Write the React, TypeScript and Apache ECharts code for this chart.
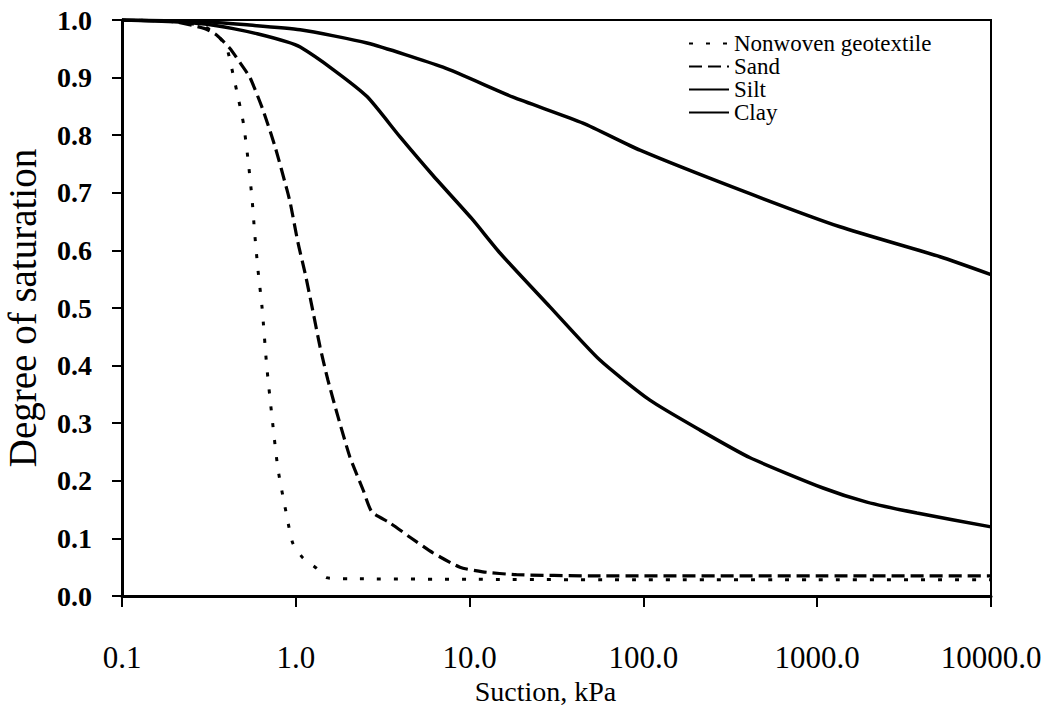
import React, { useEffect, useRef } from "react";
import * as echarts from "echarts";

const seriesNames = ["Nonwoven geotextile", "Sand", "Silt", "Clay"];

const nonwovenData: [number, number][] = [
  [0.1, 1.0], [0.2, 0.998], [0.3, 0.988], [0.35, 0.975], [0.4, 0.952], [0.436, 0.905],
  [0.47, 0.86], [0.5, 0.82], [0.53, 0.76], [0.56, 0.69], [0.58, 0.63], [0.606, 0.566],
  [0.64, 0.5], [0.68, 0.4], [0.73, 0.31], [0.79, 0.22], [0.89, 0.137], [0.96, 0.092],
  [1.1, 0.066], [1.32, 0.048], [1.5, 0.032], [2, 0.03], [10, 0.029], [100, 0.028],
  [1000, 0.028], [10000, 0.028],
];

const sandData: [number, number][] = [
  [0.1, 1.0], [0.2, 0.997], [0.3, 0.985], [0.35, 0.974], [0.417, 0.951], [0.48, 0.925],
  [0.545, 0.9], [0.647, 0.844], [0.76, 0.78], [0.89, 0.705], [0.93, 0.682], [1.03, 0.613],
  [1.13, 0.561], [1.24, 0.502], [1.38, 0.432], [1.53, 0.375], [1.75, 0.311], [2.05, 0.241],
  [2.44, 0.184], [2.74, 0.146], [3.48, 0.127], [4.54, 0.102], [6.15, 0.075], [8.8, 0.05],
  [11.9, 0.042], [18.6, 0.037], [50, 0.035], [1000, 0.035], [10000, 0.035],
];

const siltData: [number, number][] = [
  [0.1, 1.0], [0.2, 0.997], [0.3, 0.993], [0.436, 0.985], [0.6, 0.976], [0.89, 0.962],
  [1.06, 0.953], [1.64, 0.914], [2.57, 0.867], [3.98, 0.797], [6.16, 0.73],
  [10.3, 0.655], [15, 0.595], [29, 0.502], [56, 0.41], [109, 0.34], [212, 0.288],
  [411, 0.24], [1080, 0.1875], [1930, 0.163], [3750, 0.144], [10000, 0.12],
];

const clayData: [number, number][] = [
  [0.1, 1.0], [0.3, 0.997], [0.5, 0.992], [1.06, 0.983], [2.57, 0.96], [7.03, 0.918],
  [17.8, 0.866], [44.9, 0.821], [95.6, 0.774], [360, 0.705], [1352, 0.641], [5090, 0.589],
  [10000, 0.558],
];

const FONT = "Liberation Serif";

export default function App() {
  const ref = useRef<HTMLDivElement>(null);
  useEffect(() => {
    if (!ref.current) return;
    const chart = echarts.init(ref.current, undefined, { renderer: "svg" });
    const lineBase = { type: "line", showSymbol: false, symbol: "none", smooth: 0.2 };
    chart.setOption({
      animation: false,
      backgroundColor: "#ffffff",
      textStyle: { fontFamily: FONT },
      grid: {
        left: 122, right: 61, top: 20, bottom: 121,
        containLabel: false,
        outerBoundsMode: "none",
        show: true, borderColor: "#000", borderWidth: 2, backgroundColor: "transparent",
      },
      legend: {
        orient: "vertical",
        left: 688,
        top: 32,
        padding: 0,
        itemWidth: 40,
        itemHeight: 14,
        itemGap: 0,
        data: seriesNames,
        itemStyle: { opacity: 0 },
        textStyle: { fontFamily: FONT, fontSize: 23, color: "#000" },
      },
      xAxis: {
        type: "log",
        logBase: 10,
        min: 0.1,
        max: 10000,
        name: "Suction, kPa",
        nameLocation: "middle",
        nameGap: 74,
        nameTextStyle: { fontFamily: FONT, fontSize: 28, color: "#000", padding: [0, 22, 0, 0] },
        axisLine: { lineStyle: { color: "#000", width: 3 } },
        axisTick: { inside: false, length: 11, lineStyle: { color: "#000", width: 2 } },
        splitLine: { show: false },
        minorTick: { show: false },
        axisLabel: {
          margin: 46,
          fontFamily: FONT,
          fontSize: 31,
          color: "#000",
          formatter: (v: number) => Number(v).toFixed(1),
        },
      },
      yAxis: {
        type: "value",
        min: 0,
        max: 1,
        interval: 0.1,
        name: "Degree of saturation",
        nameLocation: "middle",
        nameRotate: 90,
        nameGap: 80,
        nameTextStyle: { fontFamily: FONT, fontSize: 39, color: "#000" },
        axisLine: { show: true, lineStyle: { color: "#000", width: 3 } },
        axisTick: { show: true, inside: false, length: 10, lineStyle: { color: "#000", width: 2 } },
        splitLine: { show: false },
        axisLabel: {
          margin: 30,
          fontFamily: FONT,
          fontSize: 28,
          fontWeight: "bold",
          color: "#000",
          formatter: (v: number) => Number(v).toFixed(1),
        },
      },
      series: [
        {
          ...lineBase,
          name: seriesNames[0],
          data: nonwovenData,
          lineStyle: { color: "#000", width: 3, type: [4, 13] },
          itemStyle: { color: "#000" },
        },
        {
          ...lineBase,
          name: seriesNames[1],
          data: sandData,
          lineStyle: { color: "#000", width: 3.2, type: [13, 6] },
          itemStyle: { color: "#000" },
        },
        {
          ...lineBase,
          name: seriesNames[2],
          data: siltData,
          lineStyle: { color: "#000", width: 3.5, type: "solid" },
          itemStyle: { color: "#000" },
        },
        {
          ...lineBase,
          name: seriesNames[3],
          data: clayData,
          lineStyle: { color: "#000", width: 3.5, type: "solid" },
          itemStyle: { color: "#000" },
        },
      ],
    });
    return () => chart.dispose();
  }, []);
  return (
    <div
      ref={ref}
      style={{ position: "fixed", left: 0, top: 0, width: 1052, height: 717, background: "#fff" }}
    />
  );
}
